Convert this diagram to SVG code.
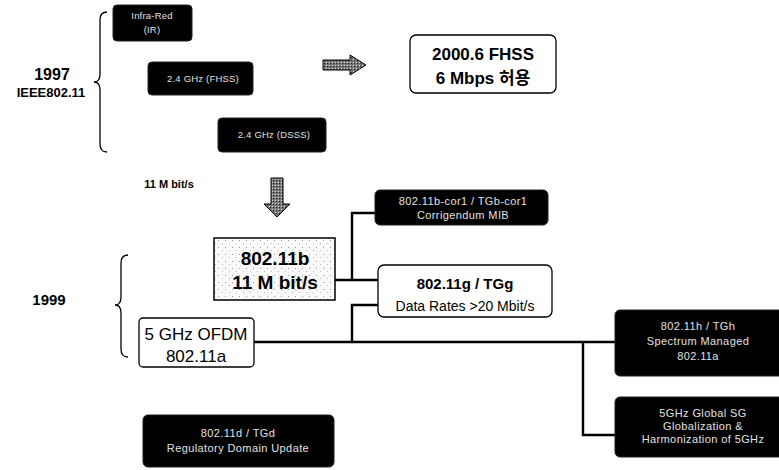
<svg xmlns="http://www.w3.org/2000/svg" width="779" height="470" viewBox="0 0 779 470">
<style>
text{font-family:"Liberation Sans","Noto Sans CJK KR",sans-serif;text-anchor:middle}
.blk rect{fill:#000;stroke:#222;stroke-width:1}
.blk text{fill:#e0e0e0;font-size:11px;letter-spacing:0.4px}
.blk text.sm{font-size:9.5px;letter-spacing:0.2px}
.wb{fill:#fff;stroke:#000;stroke-width:1.3}
.big{font-size:17px;fill:#000}
.yr{font-size:15px;font-weight:bold;fill:#000}
.con{fill:none;stroke:#000;stroke-width:2.4}
.brace{fill:none;stroke:#000;stroke-width:1.3}
.arr{fill:url(#hatch);stroke:#000;stroke-width:1}
</style>
<defs>
<pattern id="hatch" width="3" height="3" patternUnits="userSpaceOnUse">
<rect width="3" height="3" fill="#777"/>
<rect width="1" height="1" fill="#222"/>
<rect x="2" y="2" width="1" height="1" fill="#ddd"/>
</pattern>
<pattern id="dots" width="7" height="7" patternUnits="userSpaceOnUse">
<rect width="7" height="7" fill="#fafafa"/>
<rect x="1" y="2" width="1" height="1" fill="#999"/>
<rect x="5" y="5" width="1" height="1" fill="#bbb"/>
</pattern>
</defs>

<g id="labels">
<text class="yr" x="52" y="80" style="font-size:16px">1997</text>
<text x="51" y="97" style="font-size:13px;font-weight:bold">IEEE802.11</text>
<text class="yr" x="49" y="305">1999</text>
<text x="169" y="188" style="font-size:11px;font-weight:bold">11 M bit/s</text>
</g>

<g id="braces">
<path class="brace" d="M107,12 Q100,12 100,20 L100,74 Q100,82 94,82 Q100,82 100,90 L100,144 Q100,152 107,152"/>
<path class="brace" d="M128,255 Q121,255 121,263 L121,297 Q121,305 115,305 Q121,305 121,313 L121,349 Q121,357 128,357"/>
</g>

<g id="arrows">
<path class="arr" d="M323,60 L350,60 L350,55 L366,65 L350,75 L350,70 L323,70 Z"/>
<path class="arr" d="M271,178 L283,178 L283,204 L290,204 L277,217 L264,204 L271,204 Z"/>
</g>

<g id="connectors">
<path class="con" d="M335,280 L378,280"/>
<path class="con" d="M352,280 L352,213 L375,213"/>
<path class="con" d="M378,305 L352,305 L352,342"/>
<path class="con" d="M254,342 L617,342"/>
<path class="con" d="M583,342 L583,435 L617,435"/>
</g>

<g id="ir" class="blk"><rect x="113" y="5" width="79" height="36" rx="4"/>
<text class="sm" x="152" y="19">Infra-Red</text><text class="sm" x="152" y="33">(IR)</text></g>
<g id="fhss" class="blk"><rect x="148" y="62" width="105" height="33" rx="4"/>
<text class="sm" x="203" y="82">2.4 GHz (FHSS)</text></g>
<g id="dsss" class="blk"><rect x="218" y="118" width="108" height="34" rx="4"/>
<text class="sm" x="274" y="138">2.4 GHz (DSSS)</text></g>

<g id="fhss2000"><rect class="wb" x="410" y="35" width="146" height="58" rx="6"/>
<text x="483" y="60" style="font-size:17px;font-weight:bold">2000.6 FHSS</text>
<text x="483" y="84" style="font-size:17px;font-weight:bold">6 Mbps 허용</text></g>

<g id="b80211"><rect x="214" y="238" width="121" height="62" fill="url(#dots)" stroke="#000" stroke-width="1.5"/>
<text class="big" x="275" y="265" style="font-size:19px;font-weight:bold">802.11b</text>
<text class="big" x="275" y="289" style="font-size:19px;font-weight:bold">11 M bit/s</text></g>

<g id="cor1" class="blk"><rect x="375" y="190" width="173" height="35" rx="5"/>
<text x="463" y="205">802.11b-cor1 / TGb-cor1</text><text x="463" y="219">Corrigendum MIB</text></g>

<g id="g80211"><rect class="wb" x="378" y="265" width="174" height="52" rx="6"/>
<text x="465" y="289" style="font-size:15px;font-weight:bold">802.11g / TGg</text>
<text x="465" y="311" style="font-size:14px">Data Rates &gt;20 Mbit/s</text></g>

<g id="a80211"><rect class="wb" x="139" y="318" width="115" height="49" rx="4"/>
<text class="big" x="196" y="340">5 GHz OFDM</text>
<text class="big" x="196" y="362">802.11a</text></g>

<g id="h80211" class="blk"><rect x="615" y="310" width="170" height="66" rx="5"/>
<text x="698" y="330">802.11h / TGh</text><text x="698" y="345">Spectrum Managed</text><text x="698" y="360">802.11a</text></g>

<g id="sg5ghz" class="blk"><rect x="615" y="397" width="170" height="60" rx="5"/>
<text x="703" y="417">5GHz Global SG</text><text x="703" y="430">Globalization &amp;</text><text x="703" y="443">Harmonization of 5GHz</text></g>

<g id="d80211" class="blk"><rect x="143" y="415" width="191" height="52" rx="5"/>
<text x="238" y="437">802.11d / TGd</text><text x="238" y="452">Regulatory Domain Update</text></g>
</svg>
